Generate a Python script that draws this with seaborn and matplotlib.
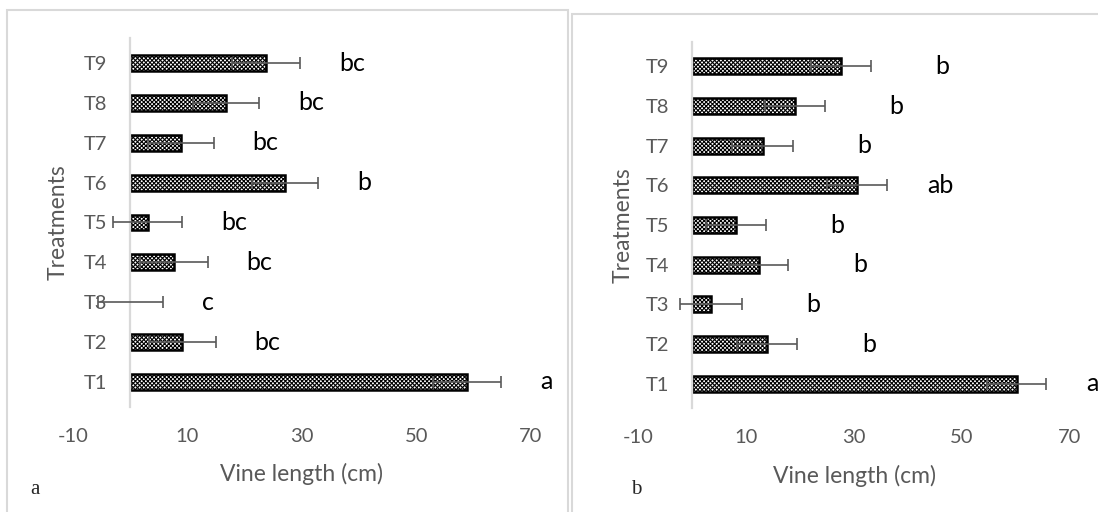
import pandas as pd
import matplotlib
matplotlib.use('Agg')
import matplotlib.pyplot as plt
import seaborn as sns
from matplotlib.patches import Rectangle

# ------------------- Data -------------------
treatments = ['T1', 'T2', 'T3', 'T4', 'T5', 'T6', 'T7', 'T8', 'T9']

# panel a
length_a = [58.9, 9.1, 0.0, 7.6, 3.0, 27.1, 8.8, 16.7, 23.7]
se_a = [6.0, 5.8, 5.7, 5.9, 6.1, 5.8, 5.8, 5.8, 6.0]
letters_a = ['a', 'bc', 'c', 'bc', 'bc', 'b', 'bc', 'bc', 'bc']

# panel b
length_b = [60.1, 13.8, 3.4, 12.3, 8.1, 30.5, 13.0, 19.0, 27.5]
se_b = [5.5, 5.6, 5.7, 5.5, 5.5, 5.5, 5.6, 5.5, 5.6]
letters_b = ['a', 'b', 'b', 'b', 'b', 'ab', 'b', 'b', 'b']

x_ticks = [-10, 10, 30, 50, 70]

# ------------------- Style -------------------
sns.set_style('white')
plt.rcParams['font.family'] = ['Lato', 'DejaVu Sans']
plt.rcParams['axes.unicode_minus'] = False
plt.rcParams['hatch.linewidth'] = 0.8
GREY = '#595959'


def draw_panel(ax, values, errors, letters, letter_pad):
    df = pd.DataFrame({'Treatment': treatments, 'Length': values})
    order = treatments[::-1]  # T9 on top
    sns.barplot(data=df, x='Length', y='Treatment', order=order, width=0.4,
                color='white', edgecolor='black', linewidth=1.8,
                errorbar=None, saturation=1, ax=ax)
    for p in ax.patches:
        p.set_hatch('xxxxxxxx')
        if p.get_width() == 0:
            p.set_visible(False)

    se = dict(zip(treatments, errors))
    lab = dict(zip(treatments, letters))
    for p, t in zip(ax.patches, order):
        yc = p.get_y() + p.get_height() / 2
        val = p.get_width()
        ax.errorbar(val, yc, xerr=se[t], fmt='none', ecolor=GREY,
                    elinewidth=1.2, capsize=4, capthick=1.2, zorder=5)
        ax.text(val + se[t] + letter_pad(lab[t]), yc, lab[t], ha='left',
                va='center', fontsize=18, color='black')

    ax.set_xlim(-10, 70)
    ax.set_xticks(x_ticks)
    sns.despine(ax=ax, top=True, right=True, bottom=True)
    ax.spines['left'].set_position(('data', 0))
    ax.spines['left'].set_color('#d9d9d9')
    ax.spines['left'].set_linewidth(1.6)
    ax.tick_params(axis='both', length=0, labelsize=14.5, labelcolor=GREY)
    ax.tick_params(axis='x', pad=15)
    ax.tick_params(axis='y', pad=16.5)
    ax.set_xlabel('Vine length (cm)', fontsize=16.5, color=GREY)
    ax.set_ylabel('Treatments', fontsize=16.5, color=GREY)
    ax.grid(False)


fig = plt.figure(figsize=(10.98, 5.12), dpi=100)

# panel frames
fig.add_artist(Rectangle((7 / 1098, -0.05), 561 / 1098, 1.05 - 10 / 512,
                         transform=fig.transFigure, fill=False,
                         edgecolor='#d9d9d9', linewidth=1.5))
fig.add_artist(Rectangle((572 / 1098, -0.05), 0.6, 1.05 - 14 / 512,
                         transform=fig.transFigure, fill=False,
                         edgecolor='#d9d9d9', linewidth=1.5))

ax_a = fig.add_axes([0.0667, 0.2057, 0.4164, 0.7195])
ax_b = fig.add_axes([0.5815, 0.2025, 0.393, 0.716])
ax_a.patch.set_alpha(0)
ax_b.patch.set_alpha(0)

draw_panel(ax_a, length_a, se_a, letters_a, lambda s: 6.8)
draw_panel(ax_b, length_b, se_b, letters_b, lambda s: 12 if s == 'b' else 7.5)

ax_a.xaxis.set_label_coords(0.5, -0.153)
ax_b.xaxis.set_label_coords(0.5, -0.155)
ax_a.yaxis.set_label_coords(-0.0098, 0.5)
ax_b.yaxis.set_label_coords(-0.0118, 0.5)

fig.text(30 / 1098, 1 - 494 / 512, 'a', fontsize=15, family='Liberation Serif',
         ha='left', va='baseline')
fig.text(631 / 1098, 1 - 494 / 512, 'b', fontsize=15, family='Liberation Serif',
         ha='left', va='baseline')

fig.savefig('out.png', dpi=100)
